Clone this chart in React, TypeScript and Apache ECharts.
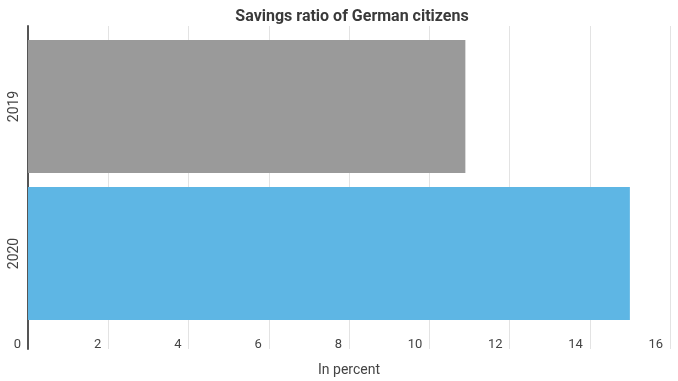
import React, { useEffect, useRef } from "react";
import * as echarts from "echarts";

const categories = ["2019", "2020"];
const values = [10.9, 15.0];
const barColors = ["#9a9a9a", "#5eb6e4"];
const xTicks = { min: 0, max: 16, interval: 2 };

export default function App() {
  const ref = useRef<HTMLDivElement>(null);
  useEffect(() => {
    if (!ref.current) return;
    const chart = echarts.init(ref.current, null, { renderer: "svg" });
    const font = "Roboto, 'Noto Sans', sans-serif";
    chart.setOption({
      animation: false,
      textStyle: { fontFamily: font },
      title: {
        text: "Savings ratio of German citizens",
        left: 347,
        top: 2,
        textAlign: "center",
        textStyle: { fontFamily: font, fontSize: 16, fontWeight: "bold", color: "#3a3a3a" },
      },
      grid: [
        { left: 28, right: 8, top: 26, bottom: 24 },
        { left: 28, right: 8, top: 33, bottom: 54 },
      ],
      xAxis: [
        {
          gridIndex: 0,
          type: "value",
          min: xTicks.min,
          max: xTicks.max,
          interval: xTicks.interval,
          name: "In percent",
          nameLocation: "middle",
          nameGap: 13,
          nameTextStyle: { fontFamily: font, fontSize: 14, color: "#444", verticalAlign: "top" },
          axisLine: { show: false },
          axisTick: { show: false },
          splitLine: { show: true, lineStyle: { color: "#e3e3e3", width: 1 } },
          axisLabel: {
            inside: true,
            margin: -1,
            align: "right",
            padding: [0, 7, 0, 0],
            fontFamily: font,
            fontSize: 13,
            color: "#444",
            showMinLabel: true,
            showMaxLabel: true,
          },
        },
        {
          gridIndex: 1,
          type: "value",
          min: xTicks.min,
          max: xTicks.max,
          interval: xTicks.interval,
          show: false,
          splitLine: { show: false },
        },
      ],
      yAxis: [
        {
          gridIndex: 0,
          type: "category",
          data: categories,
          inverse: true,
          axisLine: { show: true, lineStyle: { color: "#555", width: 2 } },
          axisTick: { show: false },
          axisLabel: { show: false },
          splitLine: { show: false },
        },
        {
          gridIndex: 1,
          type: "category",
          data: categories,
          inverse: true,
          axisLine: { show: false },
          axisTick: { show: false },
          splitLine: { show: false },
          axisLabel: {
            rotate: 90,
            margin: 8,
            fontFamily: font,
            fontSize: 14,
            color: "#444",
          },
        },
      ],
      series: [
        {
          type: "bar",
          xAxisIndex: 1,
          yAxisIndex: 1,
          barWidth: 133,
          data: values.map((v, i) => ({ value: v, itemStyle: { color: barColors[i] } })),
        },
      ],
    });
    return () => chart.dispose();
  }, []);
  return (
    <div
      ref={ref}
      style={{ position: "fixed", left: 0, top: 0, width: 678, height: 381 }}
    />
  );
}
